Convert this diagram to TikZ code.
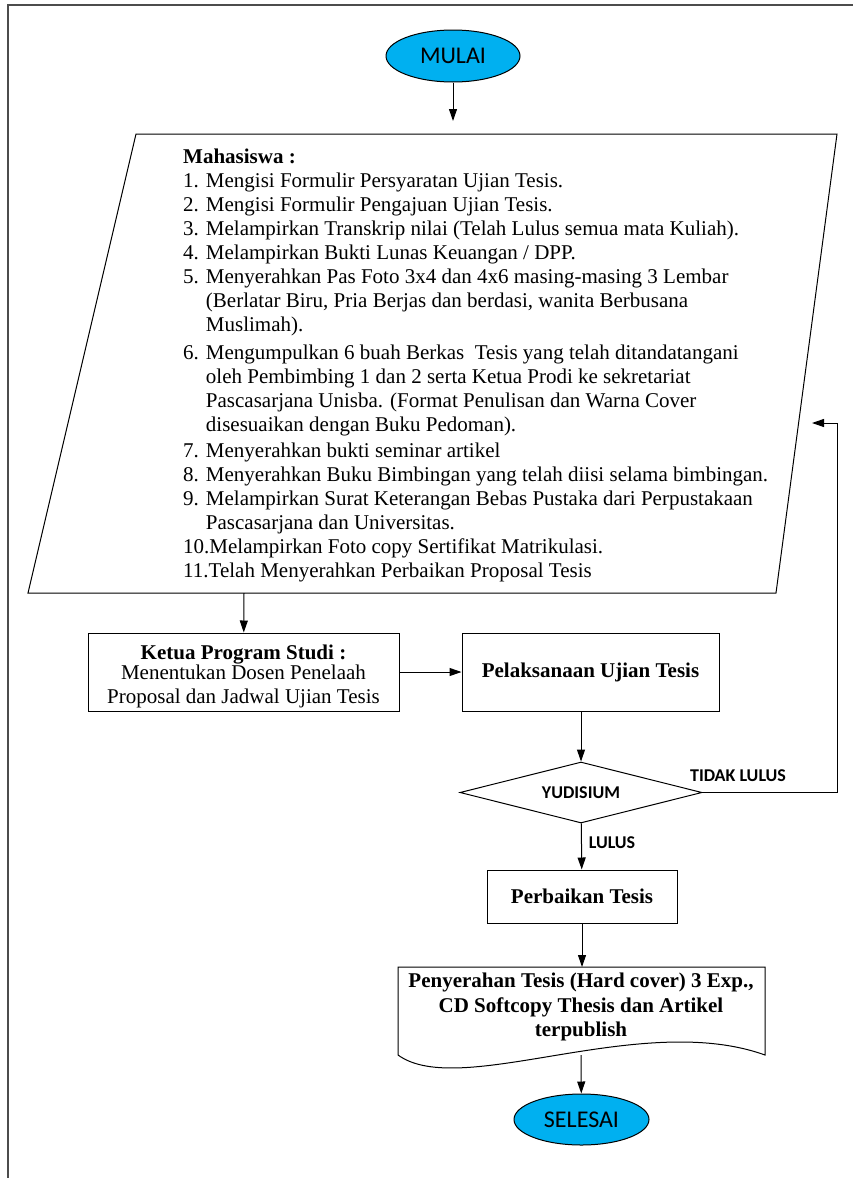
\documentclass[tikz,border=0pt]{standalone}
\usepackage{fontspec}
\setmainfont{Liberation Serif}
\newfontfamily\calibri{Carlito}
\usepackage{tikz}
\usetikzlibrary{shapes, arrows, arrows.meta, positioning}
\definecolor{birumuda}{RGB}{0,176,240}
\newcommand{\indentasi}{\hphantom{5. }}
\tikzstyle{terminal} = [draw, ellipse, fill=birumuda, line width=1pt, minimum width=134pt, minimum height=52pt, inner sep=0pt, font=\calibri\fontsize{24}{28}\selectfont]
\tikzstyle{proses} = [draw, rectangle, line width=1pt, align=center, inner sep=0pt, font=\fontsize{21}{22.5}\selectfont]
\tikzstyle{keputusan} = [draw, diamond, aspect=4, line width=1pt, minimum width=242pt, minimum height=61pt, inner sep=0pt, font=\calibri\bfseries\fontsize{18}{20}\selectfont]
\tikzstyle{keterangan} = [inner sep=0pt, font=\calibri\bfseries\fontsize{18}{20}\selectfont]
\tikzstyle{panah} = [-{Triangle[length=12pt,width=8pt]}, line width=1pt]
\tikzstyle{bingkai} = [line width=2.5pt, black!70]

\begin{document}
\begin{tikzpicture}[x=1pt, y=-1pt]
	\useasboundingbox (0,0) rectangle (853,1178);
	\draw[bingkai] (860,5) -- (8,5) -- (8,1190);
	\node[terminal] (mulai) at (453,56) {MULAI};
	\node[anchor=north west, inner sep=0pt, align=left, font=\fontsize{21}{24}\selectfont] (mhs) at (183,149) {%
		\textbf{Mahasiswa :}\\
		1. Mengisi Formulir Persyaratan Ujian Tesis.\\
		2. Mengisi Formulir Pengajuan Ujian Tesis.\\
		3. Melampirkan Transkrip nilai (Telah Lulus semua mata Kuliah).\\
		4. Melampirkan Bukti Lunas Keuangan / DPP.\\
		5. Menyerahkan Pas Foto 3x4 dan 4x6 masing-masing 3 Lembar\\
		\indentasi(Berlatar Biru, Pria Berjas dan berdasi, wanita Berbusana\\
		\indentasi Muslimah).\\[4pt]
		6. Mengumpulkan 6 buah Berkas\ \ Tesis yang telah ditandatangani\\
		\indentasi oleh Pembimbing 1 dan 2 serta Ketua Prodi ke sekretariat\\
		\indentasi Pascasarjana Unisba. (Format Penulisan dan Warna Cover\\
		\indentasi disesuaikan dengan Buku Pedoman).\\[2pt]
		7. Menyerahkan bukti seminar artikel\\
		8. Menyerahkan Buku Bimbingan yang telah diisi selama bimbingan.\\
		9. Melampirkan Surat Keterangan Bebas Pustaka dari Perpustakaan\\
		\indentasi Pascasarjana dan Universitas.\\
		10.Melampirkan Foto copy Sertifikat Matrikulasi.\\
		11.Telah Menyerahkan Perbaikan Proposal Tesis};
	\draw[line width=1pt] (136,134) -- (837,134) -- (776,593) -- (28,593) -- cycle;
	\coordinate (mhsatas) at (453,121);
	\coordinate (mhsbawah) at (244,593);
	\node[proses, minimum width=311pt, minimum height=78pt] (ketua) at (243.5,672) {\rule{0pt}{23pt}\textbf{Ketua Program Studi :}\\[-2pt]Menentukan Dosen Penelaah\\[1pt]Proposal dan Jadwal Ujian Tesis};
	\node[proses, minimum width=257pt, minimum height=78pt, right=62pt of ketua] (pelaksanaan) {\textbf{Pelaksanaan Ujian Tesis}};
	\node[keputusan] (yudisium) at (581,792.5) {YUDISIUM};
	\node[keterangan] (tidaklulus) at (738,776) {TIDAK LULUS};
	\node[keterangan] (lulus) at (612,843) {LULUS};
	\node[proses, minimum width=190pt, minimum height=53pt] (perbaikan) at (582,896.5) {\textbf{Perbaikan Tesis}};
	\node[align=center, inner sep=0pt, font=\bfseries\fontsize{21}{24.5}\selectfont] (serah) at (581,1007) {Penyerahan Tesis (Hard cover) 3 Exp.,\\CD Softcopy Thesis dan Artikel\\terpublish};
	\draw[line width=1pt] (398,1055) -- (398,967) -- (765,967) -- (765,1055) .. controls (640,1010) and (460,1100) .. (398,1055);
	\coordinate (serahatas) at (582,967);
	\coordinate (serahbawah) at (581,1055);
	\node[terminal, minimum width=135pt, minimum height=51pt] (selesai) at (581.5,1119.5) {SELESAI};
	\coordinate (balik) at (812,423);
	\coordinate (sudut) at (837,423);
	\draw[panah] (mulai) -- (mhsatas);
	\draw[panah] (mhsbawah) -- (ketua);
	\draw[panah] (ketua) -- (pelaksanaan);
	\draw[panah] (yudisium.north |- pelaksanaan.south) -- (yudisium);
	\draw[panah] (yudisium.east) -| (sudut) -- (balik);
	\draw[panah] (yudisium) -- (perbaikan);
	\draw[panah] (perbaikan) -- (serahatas);
	\draw[panah] (serahbawah) -- (selesai);
\end{tikzpicture}
\end{document}
